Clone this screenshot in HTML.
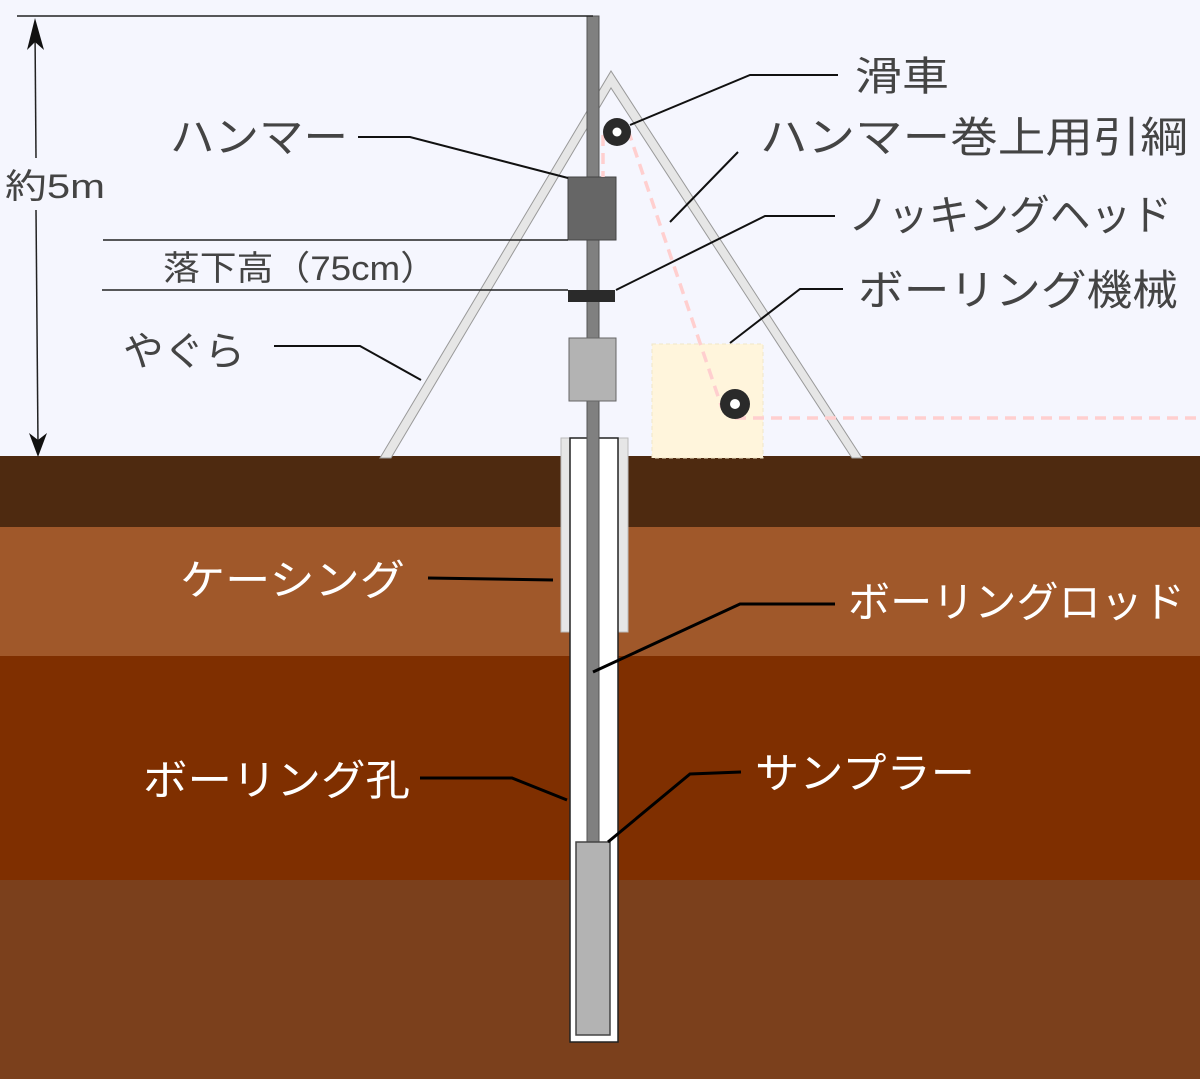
<!DOCTYPE html>
<html><head><meta charset="utf-8"><style>
html,body{margin:0;padding:0;background:#f5f6fe}
svg{display:block}
text{font-family:"Liberation Sans","Noto Sans CJK JP",sans-serif}
</style></head><body>
<svg width="1200" height="1079" viewBox="0 0 1200 1079" xmlns="http://www.w3.org/2000/svg">
<rect x="0" y="0" width="1200" height="456" fill="#f5f6fe"/>
<rect x="0" y="456" width="1200" height="71" fill="#4e2a10"/>
<rect x="0" y="527" width="1200" height="129" fill="#a0582a"/>
<rect x="0" y="656" width="1200" height="224" fill="#7f2f00"/>
<rect x="0" y="880" width="1200" height="199" fill="#7b401c"/>

<rect x="652" y="344" width="111" height="114" fill="#fff5dc" stroke="#f0e6c8" stroke-dasharray="4 3"/>

<polygon points="380,458 611,71 862,458 852,458 611,88 391,458" fill="#e6e6e6" stroke="#999" stroke-width="1"/>

<rect x="561" y="438" width="67" height="194" fill="#e6e6e6" stroke="#bbb"/>
<rect x="570" y="438" width="48" height="604" fill="#fff" stroke="#222" stroke-width="1.5"/>
<rect x="587" y="16" width="12" height="828" fill="#808080" stroke="#555" stroke-width="1"/>
<rect x="576" y="842" width="34" height="193" fill="#b3b3b3" stroke="#444" stroke-width="1.5"/>

<rect x="568" y="177" width="48" height="63" fill="#666" stroke="#444"/>
<rect x="568" y="290" width="47" height="12" fill="#2a2a2a"/>
<rect x="569" y="338" width="47" height="63" fill="#b3b3b3" stroke="#666"/>

<g stroke="#ffcfcf" stroke-width="3.5" stroke-dasharray="11 7" fill="none">
<path d="M603 135 L603 177"/>
<path d="M628 130 L722 408"/>
<path d="M735 418 L1200 418"/>
</g>
<circle cx="617" cy="132" r="14" fill="#2a2a2a"/><circle cx="617" cy="132" r="4.5" fill="#fff"/>
<circle cx="735" cy="404" r="15" fill="#2a2a2a"/><circle cx="735" cy="404" r="5" fill="#fff"/>

<g stroke="#222" stroke-width="1.5" fill="none">
<path d="M17 16 L593 16"/>
<path d="M35 30 L36 158"/><path d="M36 210 L38 444"/>
<path d="M103 240 L568 240"/><path d="M102 290 L568 290"/>
</g>
<polygon points="35,18 27,50 35,42 44,50" fill="#111"/>
<polygon points="38,457 29,433 38,440 47,433" fill="#111"/>

<g stroke="#111" stroke-width="2" fill="none">
<path d="M838 75 L750 75 L630 125"/>
<path d="M358 137 L410 137 L568 178"/>
<path d="M738 152 L670 222"/>
<path d="M835 216 L765 216 L616 290"/>
<path d="M843 289 L800 289 L730 343"/>
<path d="M274 346 L360 346 L421 380"/>
</g>
<g stroke="#000" stroke-width="3" fill="none">
<path d="M428 578 L553 580"/>
<path d="M835 604 L740 604 L593 672"/>
<path d="M420 778 L512 778 L567 800"/>
<path d="M741 772 L690 774 L608 842"/>
</g>

<g fill="#444">
<text x="855" y="90" font-size="40" textLength="94" lengthAdjust="spacingAndGlyphs">滑車</text>
<text x="760" y="152" font-size="42" textLength="428" lengthAdjust="spacingAndGlyphs">ハンマー巻上用引綱</text>
<text x="848" y="230" font-size="42" textLength="324" lengthAdjust="spacingAndGlyphs">ノッキングヘッド</text>
<text x="858" y="305" font-size="42" textLength="320" lengthAdjust="spacingAndGlyphs">ボーリング機械</text>
<text x="170" y="152" font-size="42" textLength="178" lengthAdjust="spacingAndGlyphs">ハンマー</text>
<text x="5" y="198" font-size="34" textLength="100" lengthAdjust="spacingAndGlyphs">約5m</text>
<text x="163" y="280" font-size="34" textLength="274" lengthAdjust="spacingAndGlyphs">落下高（75cm）</text>
<text x="123" y="365" font-size="40" textLength="122" lengthAdjust="spacingAndGlyphs">やぐら</text>
</g>
<g fill="#fff">
<text x="180" y="595" font-size="42" textLength="225" lengthAdjust="spacingAndGlyphs">ケーシング</text>
<text x="848" y="617" font-size="42" textLength="337" lengthAdjust="spacingAndGlyphs">ボーリングロッド</text>
<text x="143" y="795" font-size="42" textLength="267" lengthAdjust="spacingAndGlyphs">ボーリング孔</text>
<text x="755" y="788" font-size="42" textLength="220" lengthAdjust="spacingAndGlyphs">サンプラー</text>
</g>
</svg>
</body></html>
